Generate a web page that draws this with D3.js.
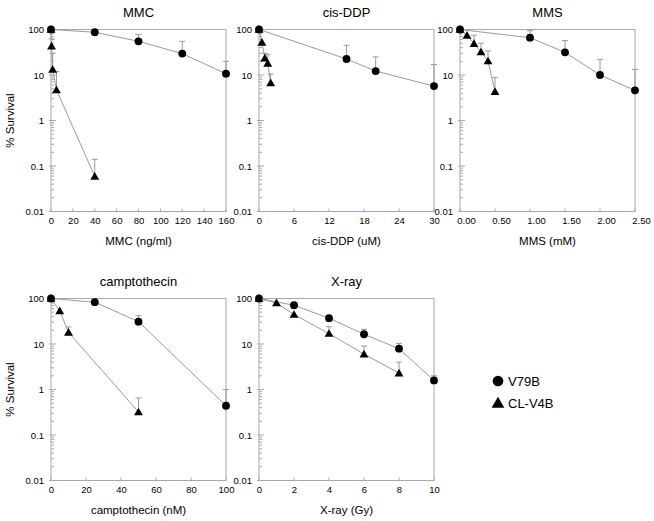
<!DOCTYPE html>
<html>
<head>
<meta charset="utf-8">
<script src="https://cdn.jsdelivr.net/npm/d3@7"></script>
<style>
  html, body { margin: 0; padding: 0; background: #fff; }
  svg text { font-family: "Liberation Sans", Arial, Helvetica, sans-serif; fill: #000; }
</style>
</head>
<body>
<svg id="chart" width="654" height="521"></svg>
<script>
// ---------------- DATA ----------------
const panelTitles = ["MMC", "cis-DDP", "MMS", "camptothecin", "X-ray"];
const xAxisLabels = ["MMC (ng/ml)", "cis-DDP (uM)", "MMS (mM)", "camptothecin (nM)", "X-ray (Gy)"];
const xDomains = [[0, 160], [0, 30], [0, 2.5], [0, 100], [0, 10]];
const xTickValues = [
  [0, 20, 40, 60, 80, 100, 120, 140, 160],
  [0, 6, 12, 18, 24, 30],
  [0, 0.5, 1, 1.5, 2, 2.5],
  [0, 20, 40, 60, 80, 100],
  [0, 2, 4, 6, 8, 10]
];
const xTickDecimals = [0, 0, 2, 0, 0];
const yTickValues = [0.01, 0.1, 1, 10, 100];
const yTickLabels = ["0.01", "0.1", "1", "10", "100"];
const yAxisLabel = "% Survival";
const seriesNames = ["V79B", "CL-V4B"];

// MMC
const mmcV79B_dose = [0, 40, 80, 120, 160];
const mmcV79B_surv = [100, 87, 55, 29.5, 10.7];
const mmcV79B_errTop = [null, null, 78, 55, 20];
const mmcCLV4B_dose = [0, 0.5, 1.5, 5, 40];
const mmcCLV4B_surv = [100, 43, 13.3, 4.7, 0.059];
const mmcCLV4B_errTop = [null, 62, 30, 12, 0.14];
// cis-DDP
const cddpV79B_dose = [0, 15, 20, 30];
const cddpV79B_surv = [100, 22.5, 12.2, 5.7];
const cddpV79B_errTop = [null, 45, 25, 17];
const cddpCLV4B_dose = [0, 0.5, 1, 1.5, 2];
const cddpCLV4B_surv = [100, 52, 23.6, 18, 6.7];
const cddpCLV4B_errTop = [null, null, 30, 28, 10.5];
// MMS
const mmsV79B_dose = [0, 1, 1.5, 2, 2.5];
const mmsV79B_surv = [100, 66, 31.5, 10, 4.6];
const mmsV79B_errTop = [null, 94, 57, 22, 13.3];
const mmsCLV4B_dose = [0, 0.1, 0.2, 0.3, 0.4, 0.5];
const mmsCLV4B_surv = [100, 74.5, 49, 32, 20.3, 4.3];
const mmsCLV4B_errTop = [null, null, 75, 50, 34, 8.9];
// camptothecin
const cptV79B_dose = [0, 25, 50, 100];
const cptV79B_surv = [100, 83, 31, 0.44];
const cptV79B_errTop = [null, null, 42, 1.0];
const cptCLV4B_dose = [0, 5, 10, 50];
const cptCLV4B_surv = [100, 53.5, 18, 0.32];
const cptCLV4B_errTop = [null, null, 23.7, 0.65];
// X-ray
const xrV79B_dose = [0, 2, 4, 6, 8, 10];
const xrV79B_surv = [100, 71, 37, 16.4, 7.9, 1.58];
const xrV79B_errTop = [null, null, null, 21, 10.3, 2.0];
const xrCLV4B_dose = [0, 1, 2, 4, 6, 8];
const xrCLV4B_surv = [100, 80, 44.5, 17, 6, 2.3];
const xrCLV4B_errTop = [null, null, null, 24, 9, 4];

const panelSeries = [
  [[mmcV79B_dose, mmcV79B_surv, mmcV79B_errTop], [mmcCLV4B_dose, mmcCLV4B_surv, mmcCLV4B_errTop]],
  [[cddpV79B_dose, cddpV79B_surv, cddpV79B_errTop], [cddpCLV4B_dose, cddpCLV4B_surv, cddpCLV4B_errTop]],
  [[mmsV79B_dose, mmsV79B_surv, mmsV79B_errTop], [mmsCLV4B_dose, mmsCLV4B_surv, mmsCLV4B_errTop]],
  [[cptV79B_dose, cptV79B_surv, cptV79B_errTop], [cptCLV4B_dose, cptCLV4B_surv, cptCLV4B_errTop]],
  [[xrV79B_dose, xrV79B_surv, xrV79B_errTop], [xrCLV4B_dose, xrCLV4B_surv, xrCLV4B_errTop]]
];

// ---------------- LAYOUT ----------------
const colLeft = [51, 259, 460];
const panelW = 175;
const rowTop = [29.5, 298.5];
const panelH = 182;
const panelPos = [[0, 0], [1, 0], [2, 0], [0, 1], [1, 1]];
const tickLabelDx = [0, 0, 6, 0, 0];

const frameColor = "#a8a8a8";
const lineColor = "#9a9a9a";

const svg = d3.select("#chart");

panelTitles.forEach((title, i) => {
  const [c, r] = panelPos[i];
  const left = colLeft[c], top = rowTop[r];
  const g = svg.append("g").attr("transform", `translate(${left},${top})`);

  const x = d3.scaleLinear().domain(xDomains[i]).range([0, panelW]);
  const y = d3.scaleLog().domain([0.01, 100]).range([panelH, 0]);

  // frame
  g.append("rect").attr("x", 0).attr("y", 0).attr("width", panelW).attr("height", panelH)
    .attr("fill", "none").attr("stroke", frameColor).attr("stroke-width", 1);

  // y minor ticks (inside)
  const minor = [];
  for (let d = -2; d < 2; d++) for (let m = 2; m <= 9; m++) minor.push(m * Math.pow(10, d));
  g.selectAll(".ymin").data(minor).join("line")
    .attr("x1", 0).attr("x2", 3)
    .attr("y1", d => y(d)).attr("y2", d => y(d))
    .attr("stroke", frameColor).attr("stroke-width", 1);

  // y axis
  const yAxis = d3.axisLeft(y).tickValues(yTickValues)
    .tickFormat((d, k) => yTickLabels[k]).tickSize(0).tickPadding(7);
  const ya = g.append("g").call(yAxis);
  ya.select(".domain").remove();
  ya.selectAll("text").attr("font-size", 9.5).attr("font-family", "Liberation Sans, Arial, sans-serif");
  g.selectAll(".ymaj").data(yTickValues).join("line")
    .attr("x1", -2).attr("x2", 5)
    .attr("y1", d => y(d)).attr("y2", d => y(d))
    .attr("stroke", frameColor).attr("stroke-width", 1);

  // x axis
  const xAxis = d3.axisBottom(x).tickValues(xTickValues[i])
    .tickFormat(d3.format(`.${xTickDecimals[i]}f`)).tickSize(0).tickPadding(6);
  const xa = g.append("g").attr("transform", `translate(0,${panelH})`).call(xAxis);
  xa.select(".domain").remove();
  xa.selectAll("text").attr("font-size", 9.5).attr("dx", tickLabelDx[i])
    .attr("font-family", "Liberation Sans, Arial, sans-serif");
  g.selectAll(".xmaj").data(xTickValues[i]).join("line")
    .attr("x1", d => x(d)).attr("x2", d => x(d))
    .attr("y1", panelH).attr("y2", panelH - 3)
    .attr("stroke", frameColor).attr("stroke-width", 1);

  // title
  g.append("text").attr("x", panelW / 2).attr("y", -13).attr("text-anchor", "middle")
    .attr("font-size", 13).text(title);
  // x label
  g.append("text").attr("x", panelW / 2).attr("y", panelH + 33).attr("text-anchor", "middle")
    .attr("font-size", 11.5).text(xAxisLabels[i]);
  // y label (first column only)
  if (c === 0) {
    g.append("text")
      .attr("transform", `translate(${-37},${panelH / 2}) rotate(-90)`)
      .attr("text-anchor", "middle").attr("font-size", 11.5).text(yAxisLabel);
  }

  const line = d3.line().x(d => x(d[0])).y(d => y(d[1]));

  panelSeries[i].forEach((s, si) => {
    const [dose, surv, err] = s;
    const pts = dose.map((d, k) => [d, surv[k], err[k]]);
    // line
    g.append("path").datum(pts).attr("d", line)
      .attr("fill", "none").attr("stroke", lineColor).attr("stroke-width", 1);
    // error bars (upper)
    const eb = pts.filter(p => p[2] != null);
    g.selectAll(null).data(eb).join("line")
      .attr("x1", p => x(p[0])).attr("x2", p => x(p[0]))
      .attr("y1", p => y(p[1])).attr("y2", p => y(p[2]))
      .attr("stroke", lineColor).attr("stroke-width", 1);
    g.selectAll(null).data(eb).join("line")
      .attr("x1", p => x(p[0]) - 3).attr("x2", p => x(p[0]) + 3)
      .attr("y1", p => y(p[2])).attr("y2", p => y(p[2]))
      .attr("stroke", lineColor).attr("stroke-width", 1);
    // markers
    const sym = si === 0 ? d3.symbolCircle : d3.symbolTriangle;
    const size = si === 0 ? 48 : 34;
    g.selectAll(null).data(pts).join("path")
      .attr("transform", p => `translate(${x(p[0])},${y(p[1]) + (si === 1 ? 0.8 : 0)})`)
      .attr("d", d3.symbol().type(sym).size(size))
      .attr("fill", "#000");
  });
});

// legend
const legend = svg.append("g").attr("transform", "translate(498,381)");
seriesNames.forEach((name, si) => {
  const gy = si * 22;
  legend.append("path")
    .attr("transform", `translate(0,${gy + (si === 1 ? 1 : 0)})`)
    .attr("d", d3.symbol().type(si === 0 ? d3.symbolCircle : d3.symbolTriangle).size(si === 0 ? 90 : 70))
    .attr("fill", "#000");
  legend.append("text").attr("x", 10).attr("y", gy + 5)
    .attr("font-size", 13).text(name);
});
</script>
</body>
</html>
